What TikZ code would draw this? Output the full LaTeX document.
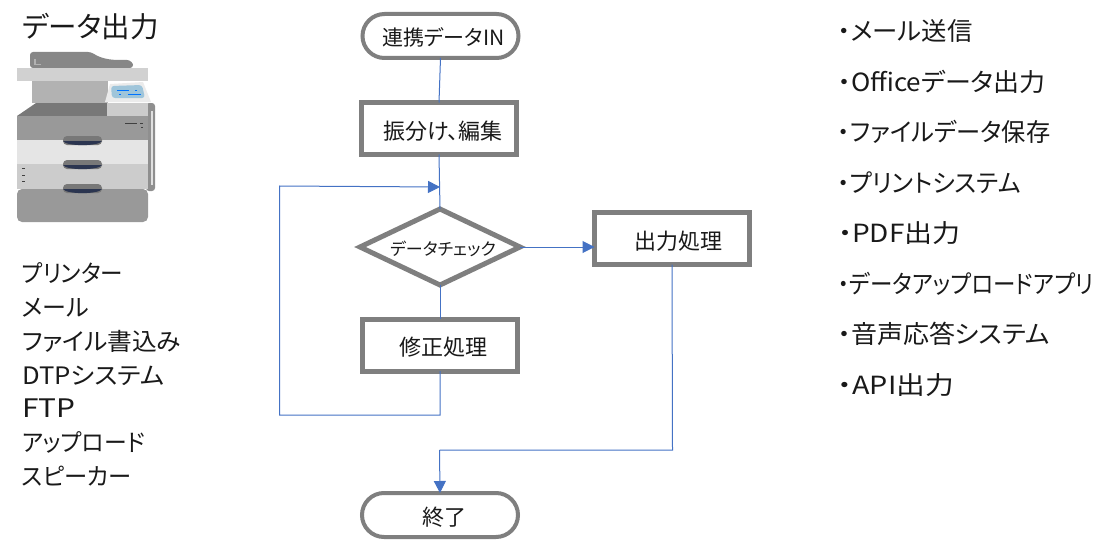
\documentclass[tikz,border=0pt]{standalone}
\usepackage{fontspec}
\setmainfont[RawFeature={+palt}]{Noto Sans CJK JP}
\usetikzlibrary{shapes.geometric,shapes.misc,arrows.meta}
\definecolor{flowgray}{HTML}{7F7F7F}
\definecolor{flowblue}{HTML}{4472C4}
% Label placed with its baseline a given distance under the shape's centre
\newcommand{\boxlabel}[3][-10.5pt]{\hspace*{#2}\raisebox{#1}[0pt][0pt]{#3}}
% Line of text narrowed or widened by a factor
\newcommand{\widthed}[2]{\scalebox{#1}[1]{#2}}
\tikzset{
  x=1pt,y=-1pt,
  every node/.style={text=black!90,inner sep=0pt,outer sep=0pt},
  procbox/.style={draw=flowgray,line width=5pt,fill=white,minimum width=155pt,minimum height=52pt,font=\fontsize{22}{26}\selectfont},
  termbox/.style={draw=flowgray,line width=4pt,fill=white,rounded rectangle,minimum width=156pt,minimum height=44pt,font=\fontsize{22}{26}\selectfont},
  checkbox/.style={draw=flowgray,line width=5pt,fill=white,diamond,aspect=2.1,minimum width=160pt,minimum height=76pt,font=\fontsize{17}{20}\selectfont},
  flow/.style={draw=flowblue,line width=1pt},
  flowarrow/.style={flow,-{Triangle[length=12pt,width=12pt]}},
  bigtext/.style={anchor=north west,align=left},
}
\begin{document}
\begin{tikzpicture}
\useasboundingbox (0,0) rectangle (1111,551);

% Multifunction printer
\begin{scope}
  \fill[rounded corners=3pt,fill=black!47] (30,68) -- (30,52) -- (91,52) .. controls (103,60) and (115,60) .. (124,60) .. controls (130,60) and (133,63) .. (133,68) -- cycle;
  \fill[black!30,draw=none] (34,59) rectangle (35.5,65);
  \fill[black!30] (34,64) rectangle (41,65.5);
  \fill[black!30] (32,81) rectangle (108,103);
  \fill[black!18] (17,68) rectangle (148,81);
  \fill[black!44,rounded corners=3pt] (146,103) -- (155,103) -- (155,191) -- (146,191) -- cycle;
  \fill[black!12] (150.5,111) rectangle (152.5,185);
  \fill[black!53] (17,116) -- (36,103) -- (108,103) -- (108,116) -- cycle;
  \fill[black!20] (107,103) rectangle (148,116);
  \fill[black!8] (105,102) -- (110,84) -- (143,82) -- (151,102) -- cycle;
  \fill[fill={rgb,255:red,159;green,197;blue,218},rounded corners=3pt] (111,86) -- (142,85) -- (145,98) -- (112,98) -- cycle;
  \draw[blue!55!cyan,line width=0.8pt] (117,90.5) -- (129,90.5) (135,90.5) -- (137,90.5) (119,94.5) -- (121,94.5) (128,94.5) -- (141,94.5);
  \fill[black!40] (17,116) rectangle (148,140);
  \fill[black!10] (17,140) rectangle (148,164);
  \fill[black!20] (17,164) rectangle (148,189);
  \fill[black!40,rounded corners=5pt] (17,189) -- (17,222) -- (148,222) -- (148,189) -- cycle;
  \foreach \yy in {136,160,184}{
    \fill[black!53,rounded corners=4pt] (63,\yy) rectangle (102,\yy+9);
    \fill[fill={rgb,255:red,43;green,53;blue,80}] (63,\yy+5) .. controls (66,\yy+10.5) and (99,\yy+10.5) .. (102,\yy+5) -- cycle;
  }
  \fill[black!75] (125,122.5) rectangle (137,123.5);
  \fill[black!75] (140,122.5) rectangle (143,123.5);
  \fill[black!75] (141,126.5) rectangle (143,127.5);
  \fill[black!75] (22,168) rectangle (25,169);
  \fill[black!75] (22,174.5) rectangle (25,175.5);
  \fill[black!75] (22,180.5) rectangle (25,181.5);
\end{scope}

% Text blocks
\node[bigtext,font=\fontsize{28.5}{34}\selectfont] (title) at (22,13) {データ出力};
\node[bigtext,font=\fontsize{24}{33.7}\selectfont] (devices) at (22,263) {\widthed{.94}{プリンター}\\メール\\\widthed{1.03}{ファイル書込み}\\\widthed{1.07}{DTPシステム}\\{\fontsize{25.5}{33.7}\selectfont\widthed{1.17}{FTP}}\\\widthed{.95}{アップロード}\\\widthed{.97}{スピーカー}};
\node[bigtext,font=\fontsize{25}{50.5}\selectfont] (outputs) at (838,19.5) {\widthed{1.016}{・メール送信}\\\widthed{1.04}{・Officeデータ出力}\\\widthed{.97}{・ファイルデータ保存}\\\widthed{.97}{・プリントシステム}\\\widthed{1.12}{・PDF出力}\\\widthed{.90}{・データアップロードアプリ}\\\widthed{1.04}{・音声応答システム}\\\widthed{1.15}{・API出力}};

% Flowchart nodes
\node[termbox,font=\fontsize{21}{25}\selectfont] (start) at (440.5,36) {\boxlabel[-9.5pt]{6pt}{連携データIN}};
\node[procbox] (edit) at (439,128.5) {\boxlabel{8pt}{振分け、編集}};
\node[checkbox] (check) at (440,247) {\boxlabel[-8pt]{6pt}{データチェック}};
\node[procbox] (fix) at (440,345) {\boxlabel{6pt}{修正処理}};
\node[procbox] (output) at (672,238.5) {\boxlabel{12pt}{出力処理}};
\node[termbox] (finish) at (440,515) {\boxlabel{9pt}{終了}};

% Connectors
\coordinate (merge) at (440,187);
\coordinate (loopbottom) at (279.5,415);
\coordinate (looptop) at (279.5,186);
\coordinate (drop) at (672.5,450);
\coordinate (dropend) at (439.5,450);
\draw[flow] (start.south) -- (edit.north);
\draw[flow] (edit.south) -- (check.north);
\draw[flow] (check.south) -- (fix.north);
\draw[flowarrow] (check.east) -- (output.west |- check.east);
\draw[flowarrow] (fix.south) -- (fix.south |- loopbottom) -- (loopbottom) -- (looptop) -- (merge);
\draw[flow] (output.south) -- (drop) -- (dropend);
\draw[flowarrow] (dropend) -- (finish.north);
\end{tikzpicture}
\end{document}
